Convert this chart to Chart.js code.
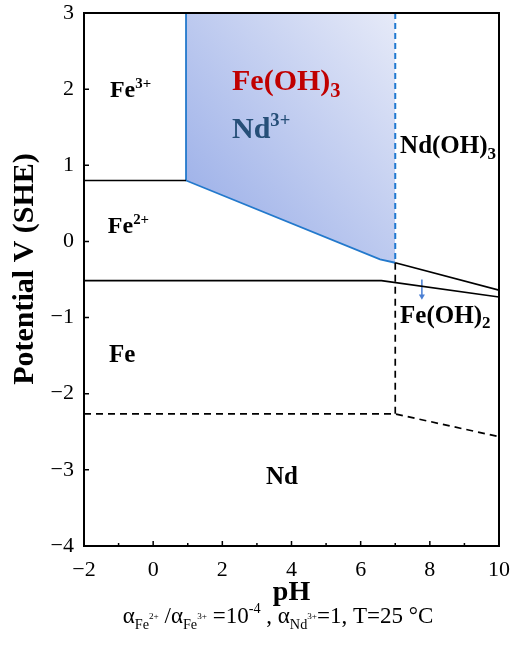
<!DOCTYPE html>
<html>
<head>
<meta charset="utf-8">
<script src="https://cdn.jsdelivr.net/npm/chart.js@4.4.1/dist/chart.umd.min.js"></script>
<style>
  html, body { margin: 0; padding: 0; background: #fff; }
  #wrap { width: 512px; height: 646px; }
</style>
</head>
<body>
<div id="wrap"><canvas id="myChart" width="512" height="646"></canvas></div>
<script>
// axis ticks
const xTicks = [-2, 0, 2, 4, 6, 8, 10];
const xMinorTicks = [-1, 1, 3, 5, 7, 9];
const yTicks = [-4, -3, -2, -1, 0, 1, 2, 3];

// boundary lines (pH, potential V)
const fe3Fe2PH = [-2, 0.95];
const fe3Fe2V = [0.8, 0.8];

const feOH3PH = [0.95, 0.95, 6.56, 7.0];
const feOH3V = [3, 0.8, -0.235, -0.28];

const nd3DashPH = [7.0, 7.0];
const nd3DashV = [3, -0.28];

const feOH3FeOH2PH = [7.0, 10];
const feOH3FeOH2V = [-0.28, -0.64];

const fe2FePH = [-2, 6.6, 10];
const fe2FeV = [-0.515, -0.515, -0.73];

const ndVertPH = [7.0, 7.0];
const ndVertV = [-0.28, -2.265];

const ndHorizPH = [-2, 7.0, 10];
const ndHorizV = [-2.265, -2.265, -2.565];

const arrowPH = [7.77, 7.77];
const arrowV = [-0.5, -0.72];

// region labels
const labelPH = [-1.25, 2.28, 2.28, 7.14, -1.31, 7.14, -1.28, 3.26];
const labelV = [1.90, 1.99, 1.36, 1.16, 0.11, -1.07, -1.58, -3.19];
const labelText = [
  [["Fe", 0], ["3+", 1]],
  [["Fe(OH)", 0], ["3", -1]],
  [["Nd", 0], ["3+", 1]],
  [["Nd(OH)", 0], ["3", -1]],
  [["Fe", 0], ["2+", 1]],
  [["Fe(OH)", 0], ["2", -1]],
  [["Fe", 0]],
  [["Nd", 0]]
];
const labelColor = ["#000", "#c00000", "#264f78", "#000", "#000", "#000", "#000", "#000"];
const labelSize = [24, 30, 30, 25, 24, 25, 25, 25];

const SERIF = '"Liberation Serif", "Times New Roman", serif';

function pts(xs, ys) {
  return xs.map((x, i) => ({ x: x, y: ys[i] }));
}

function minusFmt(v) {
  return v < 0 ? "\u2212" + Math.abs(v) : String(v);
}

// draws a list of [text, level] parts, level 0 normal, 1 sup, -1 sub
function drawParts(ctx, parts, x, y, size, weight, color) {
  ctx.fillStyle = color;
  ctx.textBaseline = "alphabetic";
  ctx.textAlign = "left";
  let cx = x;
  parts.forEach((p) => {
    let s = size, dy = 0;
    if (p[1] === 1) { s = size * 0.62; dy = -size * 0.38; }
    if (p[1] === -1) { s = size * 0.68; dy = size * 0.22; }
    ctx.font = weight + " " + s + "px " + SERIF;
    ctx.fillText(p[0], cx, y + dy);
    cx += ctx.measureText(p[0]).width;
  });
}

const pdPlugin = {
  id: "pdPlugin",
  afterDatasetsDraw(chart) {
    const ctx = chart.ctx;
    const xs = chart.scales.x, ys = chart.scales.y;
    const a = chart.chartArea;

    // region labels
    labelText.forEach((parts, i) => {
      drawParts(ctx, parts, xs.getPixelForValue(labelPH[i]), ys.getPixelForValue(labelV[i]),
        labelSize[i], "bold", labelColor[i]);
    });

    // frame
    ctx.save();
    ctx.strokeStyle = "#000";
    ctx.lineWidth = 2;
    ctx.strokeRect(a.left, a.top, a.right - a.left, a.bottom - a.top);

    // inward ticks
    ctx.lineWidth = 1.5;
    ctx.beginPath();
    xTicks.forEach((v) => {
      const px = xs.getPixelForValue(v);
      ctx.moveTo(px, a.bottom); ctx.lineTo(px, a.bottom - 5);
    });
    xMinorTicks.forEach((v) => {
      const px = xs.getPixelForValue(v);
      ctx.moveTo(px, a.bottom); ctx.lineTo(px, a.bottom - 3);
    });
    yTicks.forEach((v) => {
      const py = ys.getPixelForValue(v);
      ctx.moveTo(a.left, py); ctx.lineTo(a.left + 5, py);
    });
    ctx.stroke();
    ctx.restore();
  },
  afterDraw(chart) {
    const ctx = chart.ctx;
    const a = chart.chartArea;
    ctx.save();
    ctx.fillStyle = "#000";

    // axis titles
    ctx.font = "bold 30px " + SERIF;
    ctx.textAlign = "center";
    ctx.textBaseline = "middle";
    ctx.translate(25, 269);
    ctx.rotate(-Math.PI / 2);
    ctx.fillText("Potential V (SHE)", 0, 0);
    ctx.setTransform(1, 0, 0, 1, 0, 0);

    ctx.font = "bold 28px " + SERIF;
    ctx.textBaseline = "alphabetic";
    ctx.fillText("pH", (a.left + a.right) / 2, 600);

    // caption under the axis title
    const size = 23;
    const segs = [
      ["\u03b1", 0, 1], ["Fe", 6, 0.62], ["2+", -4, 0.4],
      [" /\u03b1", 0, 1], ["Fe", 6, 0.62], ["3+", -4, 0.4],
      [" =10", 0, 1], ["-4", -10, 0.62],
      [" , \u03b1", 0, 1], ["Nd", 6, 0.62], ["3+", -4, 0.4],
      ["=1, T=25 \u00b0C", 0, 1]
    ];
    let w = 0;
    segs.forEach((s) => {
      ctx.font = (size * s[2]) + "px " + SERIF;
      w += ctx.measureText(s[0]).width;
    });
    let cx = 278 - w / 2;
    const base = 623;
    ctx.textAlign = "left";
    segs.forEach((s) => {
      ctx.font = (size * s[2]) + "px " + SERIF;
      ctx.fillText(s[0], cx, base + s[1]);
      cx += ctx.measureText(s[0]).width;
    });
    ctx.restore();
  }
};

const ctx = document.getElementById("myChart").getContext("2d");

const lineBase = {
  showLine: true,
  pointRadius: 0,
  pointHoverRadius: 0,
  fill: false,
  borderColor: "#000",
  borderWidth: 1.7,
  tension: 0,
  order: 0
};

const myChart = new Chart(ctx, {
  type: "scatter",
  data: {
    datasets: [
      Object.assign({}, lineBase, {
        label: "Fe(OH)3 / Nd3+",
        data: pts(feOH3PH, feOH3V),
        borderColor: "#2379cc",
        borderWidth: 1.8,
        fill: "end",
        order: 10,
        backgroundColor: function (c) {
          const chart = c.chart;
          if (!chart.chartArea) return "rgba(160,176,232,0.6)";
          const xs = chart.scales.x, ys = chart.scales.y;
          const g = chart.ctx.createLinearGradient(
            xs.getPixelForValue(0.95), ys.getPixelForValue(0.7),
            xs.getPixelForValue(7), ys.getPixelForValue(3));
          g.addColorStop(0, "#a0b3e9");
          g.addColorStop(1, "#e6eaf8");
          return g;
        }
      }),
      Object.assign({}, lineBase, { label: "nd3 dash", data: pts(nd3DashPH, nd3DashV), borderColor: "#1f78d0", borderWidth: 2, borderDash: [6, 4] }),
      Object.assign({}, lineBase, { label: "fe3/fe2", data: pts(fe3Fe2PH, fe3Fe2V) }),
      Object.assign({}, lineBase, { label: "feoh3/feoh2", data: pts(feOH3FeOH2PH, feOH3FeOH2V) }),
      Object.assign({}, lineBase, { label: "fe2/fe", data: pts(fe2FePH, fe2FeV) }),
      Object.assign({}, lineBase, { label: "nd vert", data: pts(ndVertPH, ndVertV), borderDash: [7, 5] }),
      Object.assign({}, lineBase, { label: "nd horiz", data: pts(ndHorizPH, ndHorizV), borderDash: [7, 5] }),
      Object.assign({}, lineBase, {
        label: "arrow",
        data: pts(arrowPH, arrowV),
        borderColor: "#4a7fd4",
        borderWidth: 1.5,
        pointRadius: [0, 3.5],
        pointStyle: "triangle",
        rotation: 180,
        pointBackgroundColor: "#4a7fd4",
        pointBorderColor: "#4a7fd4",
        pointBorderWidth: 0
      })
    ]
  },
  plugins: [pdPlugin],
  options: {
    responsive: false,
    animation: false,
    events: [],
    layout: { padding: 0 },
    plugins: {
      legend: { display: false },
      tooltip: { enabled: false }
    },
    scales: {
      x: {
        type: "linear",
        min: -2,
        max: 10,
        afterBuildTicks: (s) => { s.ticks = xTicks.map((v) => ({ value: v })); },
        afterFit: (s) => { s.height = 100; s.paddingLeft = 0; s.paddingRight = 13; },
        grid: { display: false, drawTicks: false },
        border: { display: false },
        ticks: {
          color: "#000",
          padding: 11,
          maxRotation: 0,
          font: { family: SERIF, size: 22 },
          callback: minusFmt
        }
      },
      y: {
        type: "linear",
        min: -4,
        max: 3,
        afterBuildTicks: (s) => { s.ticks = yTicks.map((v) => ({ value: v })); },
        afterFit: (s) => { s.width = 84; s.paddingTop = 13; s.paddingBottom = 0; },
        grid: { display: false, drawTicks: false },
        border: { display: false },
        ticks: {
          color: "#000",
          padding: 10,
          font: { family: SERIF, size: 22 },
          callback: minusFmt
        }
      }
    }
  }
});
</script>
</body>
</html>
